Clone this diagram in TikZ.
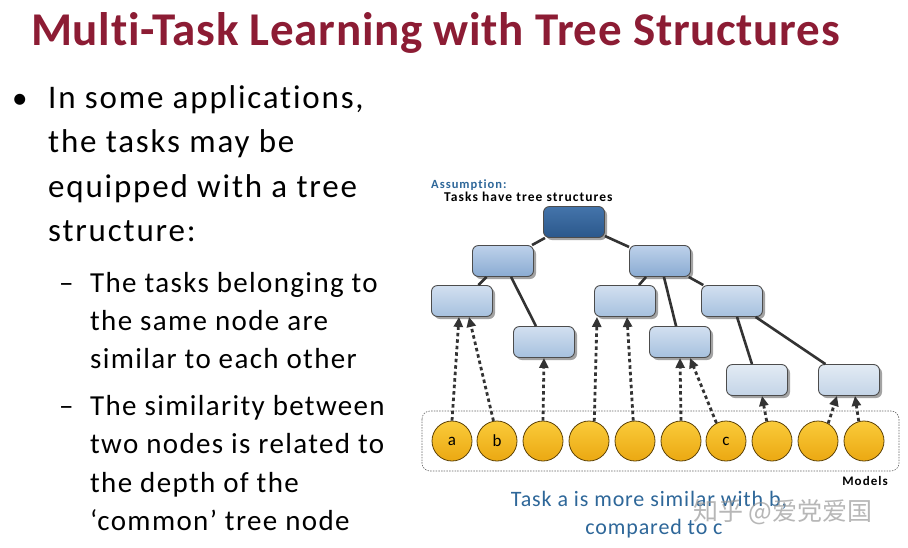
\documentclass[tikz,border=0pt]{standalone}
\usepackage{fontspec}
\setmainfont[RawFeature=-liga]{Carlito}
\newfontfamily\titlefont[LetterSpace=1.5,RawFeature=-liga]{Carlito}
\newfontfamily\bodyfont[LetterSpace=5.5,RawFeature=-liga]{Carlito}
\newfontfamily\subfont[LetterSpace=4.7,RawFeature=-liga]{Carlito}
\newfontfamily\notefont[LetterSpace=4,RawFeature=-liga]{Carlito}
\newfontfamily\smallfont[LetterSpace=8,RawFeature=-liga]{Carlito}
\newfontfamily\cjkfont{Noto Sans CJK SC}
\usetikzlibrary{arrows.meta,shadows}
\definecolor{titlered}{HTML}{8C1C34}
\definecolor{tblue}{HTML}{2E6799}
\definecolor{edgegray}{HTML}{333333}
\definecolor{rootA}{HTML}{4474AA}
\definecolor{rootB}{HTML}{2B588B}
\definecolor{lvA}{HTML}{BDD1EA}
\definecolor{lvB}{HTML}{8AABD2}
\definecolor{lwA}{HTML}{D2E0F0}
\definecolor{lwB}{HTML}{A6C0DE}
\definecolor{lzA}{HTML}{E3EBF4}
\definecolor{lzB}{HTML}{C3D4E7}
\definecolor{goldA}{HTML}{FACB3A}
\definecolor{goldB}{HTML}{EBA812}
\tikzset{
  tbox/.style={rounded corners=6pt, minimum width=61pt, minimum height=31pt,
    draw=black!70, line width=0.9pt, inner sep=0pt,
    general shadow={shadow xshift=2.5pt, shadow yshift=-2.5pt, fill=black!45, opacity=0.8}},
  rootbox/.style={tbox, top color=rootA, bottom color=rootB},
  lone/.style={tbox, top color=lvA, bottom color=lvB},
  ltwo/.style={tbox, top color=lwA, bottom color=lwB},
  lfour/.style={tbox, top color=lzA, bottom color=lzB},
  model/.style={circle, minimum size=40pt, inner sep=0pt, draw=black!60!goldB, line width=0.8pt,
    top color=goldA, bottom color=goldB, font=\fontsize{17}{20}\selectfont},
  edge/.style={draw=edgegray, line width=2.6pt},
  dep/.style={draw=edgegray, line width=2.8pt, dash pattern=on 3.5pt off 3pt,
    -{Triangle[length=10pt,width=9pt]}},
  bodyline/.style={anchor=base west, inner sep=0pt, font=\bodyfont\fontsize{33}{37}\selectfont},
  subline/.style={anchor=base west, inner sep=0pt, font=\subfont\fontsize{29}{34}\selectfont},
}
\begin{document}
\begin{tikzpicture}[x=1pt,y=-1pt]
\useasboundingbox (0,0) rectangle (908,547);
\fill[white] (0,0) rectangle (908,547);
% title
\node[anchor=base west, inner sep=0pt, text=titlered, font=\titlefont\fontsize{47}{50}\selectfont\bfseries] (title) at (31,45) {Multi-Task Learning with Tree Structures};
% left text
\node[anchor=base west, inner sep=0pt, font=\fontsize{31}{37}\selectfont] (bul) at (12,108) {•};
\node[bodyline] (t1) at (48,108) {In some applications,};
\node[bodyline] (t2) at (48,152.5) {the tasks may be};
\node[bodyline] (t3) at (48,197) {equipped with a tree};
\node[bodyline] (t4) at (48,241.5) {structure:};
\node[subline] (d1) at (59,292) {–};
\node[subline] (s1) at (90,292) {The tasks belonging to};
\node[subline] (s2) at (90,330) {the same node are};
\node[subline] (s3) at (90,368) {similar to each other};
\node[subline] (d2) at (59,415) {–};
\node[subline] (s4) at (90,415) {The similarity between};
\node[subline] (s5) at (90,453) {two nodes is related to};
\node[subline] (s6) at (90,492) {the depth of the};
\node[subline] (s7) at (90,530) {‘common’ tree node};
% assumption
\node[anchor=base west, inner sep=0pt, text=tblue, font=\smallfont\fontsize{12.5}{14}\selectfont\bfseries] (asm) at (431,188) {Assumption:};
\node[anchor=base west, inner sep=0pt, font=\smallfont\fontsize{13.5}{15}\selectfont\bfseries] (asm2) at (444,201.3) {Tasks have tree structures};
% model box
\draw[black!60, line width=0.6pt, dash pattern=on 1.5pt off 1.2pt, rounded corners=8pt] (422,411) rectangle (899,471);
% tree nodes
\node[rootbox] (root) at (574,222) {};
\node[lone] (l1a) at (503,261) {};
\node[lone] (l1b) at (660,261) {};
\node[ltwo] (l2a) at (462,301) {};
\node[ltwo] (l2b) at (625,301) {};
\node[ltwo] (l2c) at (732,301) {};
\node[ltwo] (l3a) at (544,342) {};
\node[ltwo] (l3b) at (680,342) {};
\node[lfour] (l4a) at (757,380) {};
\node[lfour] (l4b) at (849,380) {};
% edges
\draw[edge] (root) -- (l1a);
\draw[edge] (root) -- (l1b);
\draw[edge] (l1a) -- (l2a);
\draw[edge] (l1a) -- (l3a);
\draw[edge] (l1b) -- (l2b);
\draw[edge] (l1b) -- (l3b);
\draw[edge] (l1b) -- (l2c);
\draw[edge] (l2c) -- (l4a);
\draw[edge] (l2c) -- (l4b);
% models
\node[model] (m1) at (452,441) {a};
\node[model] (m2) at (497,441) {b};
\node[model] (m3) at (543,441) {};
\node[model] (m4) at (589,441) {};
\node[model] (m5) at (635,441) {};
\node[model] (m6) at (681,441) {};
\node[model] (m7) at (726,441) {c};
\node[model] (m8) at (772,441) {};
\node[model] (m9) at (818,441) {};
\node[model] (m10) at (864,441) {};
% dependency arrows
\draw[dep] (m1.north) -- ([xshift=-3pt]l2a.south);
\draw[dep] (m2.100) -- ([xshift=7pt]l2a.south);
\draw[dep] (m3.north) -- (l3a.south);
\draw[dep] (m4.75) -- ([xshift=-28pt]l2b.south);
\draw[dep] (m5.95) -- ([xshift=2pt]l2b.south);
\draw[dep] (m6.north) -- (l3b.south);
\draw[dep] (m7.118) -- ([xshift=10pt]l3b.south);
\draw[dep] (m8.105) -- ([xshift=5pt]l4a.south);
\draw[dep] (m9.60) -- ([xshift=-12pt]l4b.south);
\draw[dep] (m10.105) -- ([xshift=6pt]l4b.south);
% labels
\node[anchor=base east, inner sep=0pt, font=\smallfont\fontsize{13}{15}\selectfont\bfseries] (models) at (888,485) {Models};
\node[anchor=base, inner sep=0pt, text=tblue, font=\notefont\fontsize{22}{25}\selectfont] (note1) at (649,506) {Task a is more similar with b,};
\node[anchor=base, inner sep=0pt, text=tblue, font=\notefont\fontsize{22}{25}\selectfont] (note2) at (654,534) {compared to c};
\node[anchor=base west, inner sep=0pt, text=black!40, opacity=0.7, font=\cjkfont\fontsize{25}{28}\selectfont] (wm) at (693,520) {知乎 @爱党爱国};
\end{tikzpicture}
\end{document}
